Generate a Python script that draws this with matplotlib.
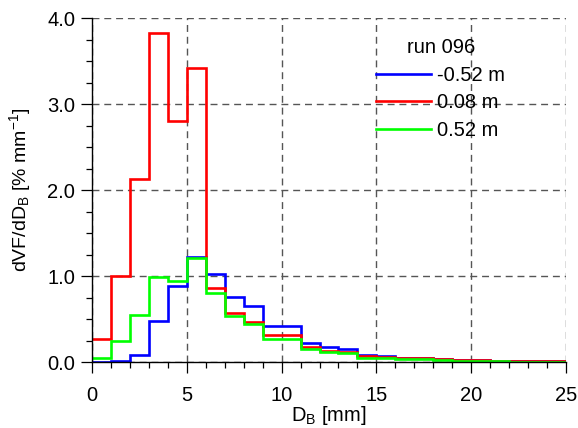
import matplotlib
matplotlib.use("Agg")
import matplotlib.pyplot as plt
import numpy as np

plt.rcParams['font.family'] = ['Liberation Sans', 'DejaVu Sans']
plt.rcParams['mathtext.fontset'] = 'custom'
plt.rcParams['mathtext.rm'] = 'Liberation Sans'
plt.rcParams['mathtext.it'] = 'Liberation Sans'

# bin edges D_B [mm]
edges = list(range(0, 26))
labels = ['-0.52 m', '0.08 m', '0.52 m']
colors = ['#0000ff', '#ff0000', '#00ff00']
blue = [0.0, 0.01, 0.08, 0.48, 0.88, 1.22, 1.02, 0.76, 0.65, 0.42, 0.42, 0.22, 0.17,
        0.155, 0.08, 0.07, 0.05, 0.05, 0.03, 0.025, 0.02, 0.015, 0.015, 0.01, 0.01]
red = [0.27, 1.00, 2.13, 3.82, 2.80, 3.42, 0.86, 0.57, 0.47, 0.31, 0.31, 0.175, 0.13,
       0.12, 0.07, 0.06, 0.05, 0.045, 0.03, 0.025, 0.02, 0.015, 0.01, 0.01, 0.01]
green = [0.05, 0.245, 0.55, 0.99, 0.94, 1.21, 0.80, 0.54, 0.44, 0.27, 0.27, 0.15, 0.12,
         0.105, 0.05, 0.045, 0.035, 0.035, 0.02, 0.015, 0.01, 0.01, 0.005, 0.005, 0.005]
series = [blue, red, green]
xticks = [0, 5, 10, 15, 20, 25]
yticks = [0.0, 1.0, 2.0, 3.0, 4.0]

FS = 14.5

fig = plt.figure(figsize=(5.78, 4.28), dpi=100)
ax = fig.add_axes([92/578, 1-362/428, (566-92)/578, (362-18)/428])

for vals, c, lab in zip(series, colors, labels):
    ax.stairs(vals, edges, color=c, lw=1.9, label=lab, baseline=None)

ax.set_xlim(0, 25)
ax.set_ylim(0, 4)
ax.set_xticks(xticks)
ax.set_xticklabels([str(t) for t in xticks])
ax.set_yticks(yticks)
ax.set_yticklabels(['%.1f' % t for t in yticks])
ax.set_xticks(np.arange(0, 26, 1), minor=True)
ax.set_yticks(np.arange(0, 4.01, 0.25), minor=True)
ax.tick_params(which='major', direction='out', length=8, width=0.9, labelsize=FS)
ax.tick_params(axis='x', which='major', pad=9.5)
ax.tick_params(axis='y', which='major', pad=4)
ax.tick_params(which='minor', direction='out', length=4.5, width=0.9)
for s in ['top', 'right']:
    ax.spines[s].set_visible(False)
for s in ['left', 'bottom']:
    ax.spines[s].set_linewidth(1.0)
ax.set_axisbelow(True)
ax.grid(True, which='major', color='#555555', lw=1.0, linestyle=(0, (5, 3.5)))

ax.set_xlabel(r'D$_\mathregular{B}$ [mm]', fontsize=FS, labelpad=-1)
ax.set_ylabel(r'dVF/dD$_\mathregular{B}$ [% mm$^\mathregular{-1}$]', fontsize=14, labelpad=10)

leg = ax.legend(title='run 096', loc='upper left', bbox_to_anchor=(376/578, 1-38/428),
                bbox_transform=fig.transFigure, frameon=False, fontsize=FS,
                title_fontsize=FS, handlelength=2.75, handletextpad=0.3,
                labelspacing=0.43, borderpad=0, borderaxespad=0)

fig.savefig('out.png', dpi=100)
